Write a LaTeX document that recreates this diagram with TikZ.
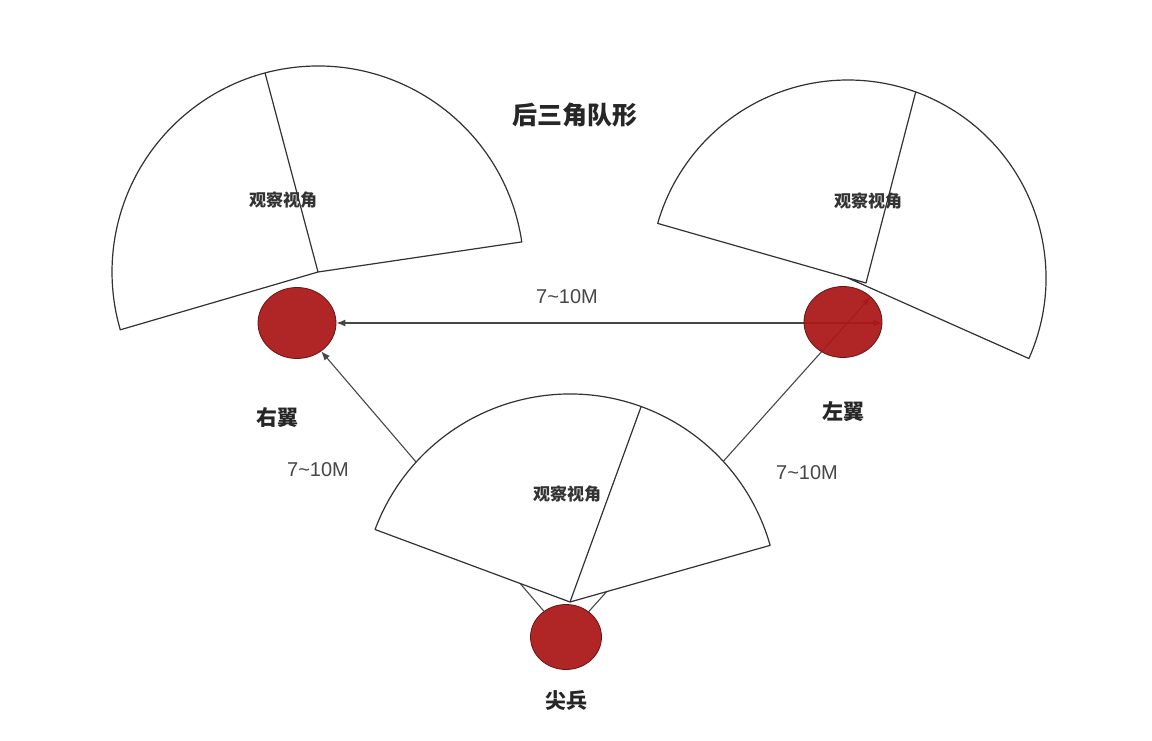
\documentclass[tikz,border=0pt]{standalone}
\usepackage{fontspec}
\setmainfont{Liberation Sans}
\newfontfamily\cjk{Noto Sans CJK SC}
\usetikzlibrary{positioning, shapes.geometric, arrows.meta, calc}
\definecolor{ballred}{RGB}{172,24,24}
\definecolor{balledge}{RGB}{105,20,20}
\definecolor{linegray}{RGB}{50,50,50}
\pgfdeclarelayer{links}
\pgfdeclarelayer{fans}
\pgfsetlayers{links,fans,main}

\begin{document}
\begin{tikzpicture}[x=1pt, y=1pt,
  fan/.style={draw=linegray, line width=1.2pt, fill=white, line join=round},
  ball/.style={ellipse, draw=balledge, line width=0.8pt, fill=ballred, fill opacity=0.94,
               minimum width=78pt, minimum height=71pt, inner sep=0pt},
  tip/.style={-{Latex[length=9pt, width=7pt]}},
  link/.style={draw=linegray!90, line width=1.1pt, tip},
  view/.style={font=\cjk\bfseries\fontsize{17}{17}\selectfont, text=black!80},
  dist/.style={font=\fontsize{20}{20}\selectfont, text=black!72},
  role/.style={font=\cjk\bfseries\fontsize{21}{21}\selectfont, text=black!85}]
  \useasboundingbox (0,0) rectangle (1152,740);

  \node[role, font=\cjk\bfseries\fontsize{25}{25}\selectfont] (title) at (575,625) {后三角队形};

  \node[ball] (rw) at (297,417) {};
  \node[ball] (lw) at (843,418) {};
  \node[ball, minimum width=71pt, minimum height=65pt] (sharp) at (566,103) {};

  \node[role] (rwname) at (277,322) {右翼};
  \node[role] (lwname) at (843,328) {左翼};
  \node[role] (sharpname) at (566,40) {尖兵};

  \begin{pgfonlayer}{fans}
  \draw[fan] (318,468) -- +(8.4:206) arc (8.4:196.3:206) -- cycle;
  \draw[fan] (318,468) -- +(104.9:206);
  \draw[fan] (848,462) -- +(-24:198) arc (-24:164:198) -- (866,457) -- cycle;
  \draw[fan] (866,457) -- ($(848,462)+(70:198)$);
  \draw[fan] (570,138) -- +(15.8:208) arc (15.8:159.6:208) -- cycle;
  \draw[fan] (570,138) -- +(70:208);
  \end{pgfonlayer}

  \node[view] (rwview) at (283,540) {观察视角};
  \node[view] (lwview) at (868,539) {观察视角};
  \node[view] (sharpview) at (567,246) {观察视角};

  \begin{pgfonlayer}{links}
  \fill[white] (0,0) rectangle (1152,740);
  \draw[link, {Latex[length=9pt, width=7pt]}-{Latex[length=9pt, width=7pt]}] (rw.east) -- (rw.east -| lw.east);
  \draw[link] (sharp) -- (rw);
  \draw[link] (sharp) -- (lw.north east);
  \end{pgfonlayer}

  \node[dist] (toplen) at (567,443) {7\textasciitilde10M};
  \node[dist] (rwlen) at (318,270) {7\textasciitilde10M};
  \node[dist] (lwlen) at (807,267) {7\textasciitilde10M};
\end{tikzpicture}
\end{document}
